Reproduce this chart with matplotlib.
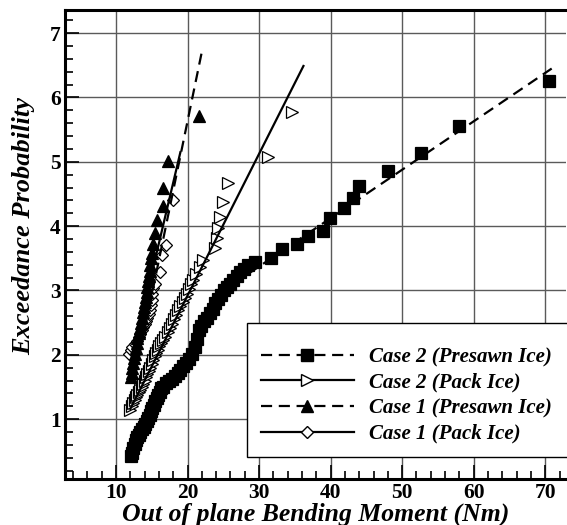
#!/usr/bin/env python3
"""Exceedance probability vs out-of-plane bending moment, four ice cases."""

import matplotlib

matplotlib.use("Agg")
import matplotlib.pyplot as plt
from matplotlib.lines import Line2D
from matplotlib.patches import Rectangle
from matplotlib.ticker import MultipleLocator

# Case 2 (Presawn Ice) - filled squares
c2_presawn_x = [12.1, 12.2, 12.4, 12.6, 12.8, 13.0, 13.2, 13.4, 13.6, 13.9, 14.1, 14.3,
                14.5, 14.7, 14.9, 15.1, 15.3, 15.5, 15.7, 15.9, 16.1, 16.3, 16.5, 17.0,
                17.4, 17.8, 18.2, 18.6, 19.0, 19.4, 19.8, 20.2, 20.6, 21.0, 21.3, 21.6,
                21.9, 22.3, 22.7, 23.1, 23.5, 23.9, 24.3, 24.7, 25.1, 25.5, 25.9, 26.4,
                26.9, 27.4, 27.9, 28.5, 29.4, 31.6, 33.2, 35.3, 36.9, 39.0, 39.9, 41.8,
                43.1, 44.0, 48.0, 52.6, 57.9, 70.5]
c2_presawn_y = [0.42, 0.48, 0.55, 0.62, 0.68, 0.72, 0.76, 0.80, 0.84, 0.88, 0.92, 0.97,
                1.02, 1.07, 1.12, 1.17, 1.22, 1.28, 1.33, 1.38, 1.43, 1.48, 1.50, 1.56,
                1.60, 1.63, 1.67, 1.71, 1.76, 1.83, 1.88, 1.94, 2.01, 2.12, 2.25, 2.38,
                2.45, 2.52, 2.58, 2.65, 2.72, 2.80, 2.87, 2.93, 3.00, 3.05, 3.10, 3.16,
                3.22, 3.28, 3.33, 3.40, 3.44, 3.50, 3.64, 3.73, 3.84, 3.92, 4.12, 4.28,
                4.44, 4.62, 4.86, 5.14, 5.55, 6.25]

# Case 2 (Pack Ice) - open right triangles
c2_pack_x = [12.0, 12.2, 12.4, 12.6, 12.8, 13.0, 13.2, 13.4, 13.6, 13.8, 14.0, 14.2,
             14.4, 14.6, 14.8, 15.0, 15.2, 15.4, 15.6, 15.8, 16.0, 16.3, 16.6, 16.9,
             17.2, 17.5, 17.8, 18.1, 18.4, 18.7, 19.0, 19.3, 19.6, 19.9, 20.2, 20.5,
             20.8, 21.2, 21.7, 22.2, 23.8, 24.1, 24.3, 24.5, 25.0, 25.7, 31.3, 34.6]
c2_pack_y = [1.15, 1.20, 1.25, 1.30, 1.34, 1.38, 1.42, 1.46, 1.50, 1.55, 1.60, 1.65,
             1.70, 1.75, 1.80, 1.86, 1.92, 1.98, 2.03, 2.08, 2.13, 2.18, 2.23, 2.28,
             2.35, 2.42, 2.48, 2.55, 2.62, 2.70, 2.76, 2.82, 2.88, 2.95, 3.02, 3.10,
             3.16, 3.25, 3.37, 3.47, 3.66, 3.81, 3.97, 4.15, 4.38, 4.67, 5.08, 5.78]

# Case 1 (Presawn Ice) - filled up triangles
c1_presawn_x = [12.1, 12.2, 12.3, 12.4, 12.5, 12.6, 12.8, 12.9, 13.0, 13.2, 13.3, 13.5,
                13.6, 13.8, 13.9, 14.0, 14.2, 14.3, 14.4, 14.5, 14.6, 14.7, 14.8, 14.9,
                15.0, 15.2, 15.5, 15.7, 16.6, 16.6, 17.2, 21.6]
c1_presawn_y = [1.65, 1.72, 1.80, 1.88, 1.95, 2.02, 2.10, 2.18, 2.26, 2.34, 2.42, 2.50,
                2.58, 2.66, 2.74, 2.82, 2.90, 2.98, 3.06, 3.14, 3.22, 3.30, 3.40, 3.50,
                3.58, 3.73, 3.90, 4.10, 4.31, 4.59, 5.01, 5.71]

# Case 1 (Pack Ice) - open diamonds
c1_pack_x = [11.8, 12.1, 12.3, 12.6, 12.9, 13.2, 13.4, 13.6, 13.8, 14.0, 14.2, 14.4,
             14.6, 14.8, 14.9, 15.0, 15.1, 15.2, 15.5, 16.1, 16.4, 17.0, 17.9]
c1_pack_y = [2.02, 2.07, 2.12, 2.17, 2.22, 2.28, 2.33, 2.38, 2.43, 2.48, 2.53, 2.58,
             2.64, 2.70, 2.78, 2.86, 2.95, 3.04, 3.10, 3.29, 3.55, 3.71, 4.41]

# fitted lines (end points)
c2_presawn_fit_x = [28.5, 70.9]
c2_presawn_fit_y = [3.26, 6.45]
c2_pack_fit_x = [12.0, 36.2]
c2_pack_fit_y = [1.16, 6.49]
c1_presawn_fit_x = [12.6, 22.07]
c1_presawn_fit_y = [1.64, 6.75]
c1_pack_fit_x = [12.0, 19.0]
c1_pack_fit_y = [1.85, 5.15]

labels = ["Case 2 (Presawn Ice)", "Case 2 (Pack Ice)",
          "Case 1 (Presawn Ice)", "Case 1 (Pack Ice)"]

SERIF = ["Liberation Serif", "DejaVu Serif"]
DASH = (0, (5, 3))
W, H = 567, 525

plt.rcParams["font.family"] = SERIF

fig = plt.figure(figsize=(W / 100, H / 100), dpi=100)
ax = fig.add_axes([65 / W, 46 / H, 501 / W, 469 / H])

mk = dict(linestyle="none", markeredgecolor="black", markeredgewidth=0.9)
ax.plot(c1_pack_x, c1_pack_y, marker="D", markersize=6.5, markerfacecolor="white", **mk, zorder=3)
ax.plot(c2_pack_x, c2_pack_y, marker=">", markersize=8.5, markerfacecolor="white", **mk, zorder=3)
ax.plot(c2_presawn_x, c2_presawn_y, marker="s", markersize=9, markerfacecolor="black", **mk, zorder=4)
ax.plot(c1_presawn_x, c1_presawn_y, marker="^", markersize=9, markerfacecolor="black", **mk, zorder=4)

ax.plot(c2_presawn_fit_x, c2_presawn_fit_y, color="black", lw=1.6, linestyle=DASH, zorder=5)
ax.plot(c2_pack_fit_x, c2_pack_fit_y, color="black", lw=1.6, zorder=5)
ax.plot(c1_presawn_fit_x, c1_presawn_fit_y, color="black", lw=1.6, linestyle=DASH, zorder=5)
ax.plot(c1_pack_fit_x, c1_pack_fit_y, color="black", lw=1.6, zorder=5)

ax.set_xlim(2.87, 72.9)
ax.set_ylim(0.07, 7.36)
ax.xaxis.set_major_locator(MultipleLocator(10))
ax.xaxis.set_minor_locator(MultipleLocator(2))
ax.yaxis.set_major_locator(MultipleLocator(1))
ax.yaxis.set_minor_locator(MultipleLocator(0.2))
ax.grid(True, which="major", color="#5a5a5a", lw=1.0)
ax.set_axisbelow(True)

ax.tick_params(which="both", direction="in", top=False, right=False, width=1.2)
ax.tick_params(which="major", length=10, labelsize=15.5, pad=3)
ax.tick_params(which="minor", length=6)
for lab in ax.get_xticklabels() + ax.get_yticklabels():
    lab.set_fontweight("bold")

for side in ["left", "bottom", "top"]:
    ax.spines[side].set_linewidth(2.2)
ax.spines["right"].set_visible(False)

ax.set_xlabel("Out of plane Bending Moment (Nm)", fontsize=18.5, fontweight="bold",
              fontstyle="italic")
ax.xaxis.set_label_coords(0.5, -0.05)
ax.xaxis.label.set_verticalalignment("top")
ax.set_ylabel("Exceedance Probability", fontsize=19, fontweight="bold", fontstyle="italic")
ax.yaxis.set_label_coords(-0.06, 0.54)

# legend frame drawn separately (box runs off the right edge)
box = Rectangle((246.7 / W, 1 - 456.7 / H), (W + 5 - 246.7) / W, (456.7 - 323.3) / H,
                transform=fig.transFigure, facecolor="white", edgecolor="black",
                lw=1.0, zorder=9, clip_on=False)
ax.add_patch(box)

handles = [
    Line2D([], [], color="black", lw=1.6, linestyle=DASH, marker="s", markersize=8,
           markerfacecolor="black", markeredgecolor="black"),
    Line2D([], [], color="black", lw=1.6, marker=">", markersize=8,
           markerfacecolor="white", markeredgecolor="black"),
    Line2D([], [], color="black", lw=1.6, linestyle=DASH, marker="^", markersize=8.5,
           markerfacecolor="black", markeredgecolor="black"),
    Line2D([], [], color="black", lw=1.6, marker="D", markersize=6,
           markerfacecolor="white", markeredgecolor="black"),
]
leg = ax.legend(handles, labels, loc="upper left",
                bbox_to_anchor=(261 / W, 1 - 347 / H), bbox_transform=fig.transFigure,
                borderaxespad=0, borderpad=0, frameon=False,
                prop={"family": SERIF, "weight": "bold", "style": "italic", "size": 15},
                numpoints=1, handlelength=4.45, handletextpad=0.75, labelspacing=0.27)
leg.set_zorder(10)

fig.savefig("out.png", dpi=100)
